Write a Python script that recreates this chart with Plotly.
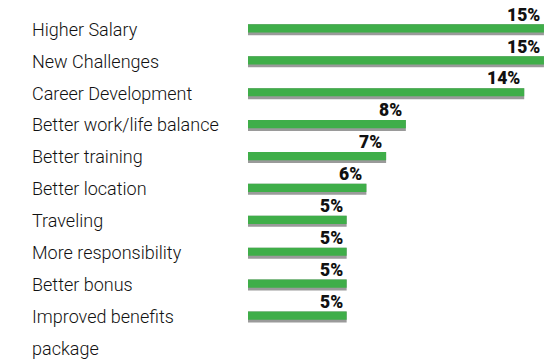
import plotly.graph_objects as go

# Survey: reasons for changing jobs
categories = [
    "Higher Salary",
    "New Challenges",
    "Career Development",
    "Better work/life balance",
    "Better training",
    "Better location",
    "Traveling",
    "More responsibility",
    "Better bonus",
    "Improved benefits\npackage",
]
values = [15, 15, 14, 8, 7, 6, 5, 5, 5, 5]
value_labels = ["15%", "15%", "14%", "8%", "7%", "6%", "5%", "5%", "5%", "5%"]

W, H = 560, 362
ROW_PX = 31.9          # vertical pitch of a row
FIRST_ROW_PX = 28.7    # centre of the first row from top
BAR_X0_PX = 248.0      # where bars start
UNIT_PX = 19.73        # pixels per percentage point
LABEL_X_PX = 30.0

GREEN = "#3fae49"
SHADOW = "#9a9a9a"

ypos = list(range(len(categories)))

y_top = -FIRST_ROW_PX / ROW_PX
y_bot = (H - FIRST_ROW_PX) / ROW_PX
x_left = -BAR_X0_PX / UNIT_PX
x_right = (W - BAR_X0_PX) / UNIT_PX

fig = go.Figure()

# grey shadow under each bar
fig.add_trace(go.Bar(
    x=values, y=ypos, orientation="h",
    width=0.345, offset=-0.137,
    marker=dict(color=SHADOW, line=dict(width=0)),
    hoverinfo="skip", showlegend=False,
))
# green bar on top
fig.add_trace(go.Bar(
    x=values, y=ypos, orientation="h",
    width=0.258, offset=-0.137,
    marker=dict(color=GREEN, line=dict(width=0)),
    hoverinfo="skip", showlegend=False,
))

annotations = []
label_x = x_left + LABEL_X_PX / UNIT_PX
for i, cat in enumerate(categories):
    for k, line in enumerate(cat.split("\n")):
        annotations.append(dict(
            x=label_x, y=i + k, xref="x", yref="y",
            text=line, showarrow=False, xanchor="left", yanchor="middle",
            yshift=-0.5,
            font=dict(family="Roboto", size=18, color="#111111", weight=300),
        ))
for i, (v, t) in enumerate(zip(values, value_labels)):
    annotations.append(dict(
        x=v, y=i - 0.44, xref="x", yref="y",
        text=t, showarrow=False, xanchor="right", yanchor="middle",
        xshift=-2,
        font=dict(family="Roboto", size=17.5, color="#111111", weight=900),
    ))

fig.update_layout(
    width=W, height=H,
    margin=dict(l=0, r=0, t=0, b=0),
    paper_bgcolor="white", plot_bgcolor="white",
    barmode="overlay",
    xaxis=dict(range=[x_left, x_right], visible=False, fixedrange=True),
    yaxis=dict(range=[y_bot, y_top], visible=False, fixedrange=True),
    annotations=annotations,
)

fig.write_html("out.html")
